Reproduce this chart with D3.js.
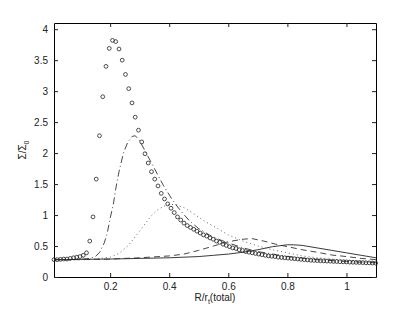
<!DOCTYPE html>
<html>
<head>
<meta charset="utf-8">
<script src="https://cdn.jsdelivr.net/npm/d3@7"></script>
<style>
  body { margin: 0; background: #fff; }
  svg { display: block; }
  svg text { font-family: "Liberation Sans", Arial, sans-serif; }
</style>
</head>
<body>
<div id="chart"></div>
<script>
// circles: sampled surface density
const rCircles = [
  0.010, 0.021, 0.032, 0.043, 0.054, 0.065, 0.076, 0.087, 0.098, 0.109,
  0.120, 0.131, 0.142, 0.153, 0.164, 0.175, 0.186, 0.197, 0.208, 0.219,
  0.230, 0.241, 0.252, 0.263, 0.274, 0.285, 0.296, 0.307, 0.318, 0.329,
  0.340, 0.351, 0.362, 0.373, 0.384, 0.395, 0.406, 0.417, 0.428, 0.439,
  0.450, 0.461, 0.472, 0.483, 0.494, 0.505, 0.516, 0.527, 0.538, 0.549,
  0.560, 0.571, 0.582, 0.593, 0.604, 0.615, 0.626, 0.637, 0.648, 0.659,
  0.670, 0.681, 0.692, 0.703, 0.714, 0.725, 0.736, 0.747, 0.758, 0.769,
  0.780, 0.791, 0.802, 0.813, 0.824, 0.835, 0.846, 0.857, 0.868, 0.879,
  0.890, 0.901, 0.912, 0.923, 0.934, 0.945, 0.956, 0.967, 0.978, 0.989,
  1.000, 1.011, 1.022, 1.033, 1.044, 1.055, 1.066, 1.077, 1.088, 1.099
];
const sigmaCircles = [
  0.28, 0.28, 0.285, 0.29, 0.29, 0.30, 0.31, 0.32, 0.33, 0.35,
  0.39, 0.58, 0.97, 1.58, 2.28, 2.91, 3.40, 3.69, 3.82, 3.80,
  3.68, 3.50, 3.27, 3.04, 2.81, 2.58, 2.37, 2.18, 1.99, 1.84,
  1.70, 1.58, 1.47, 1.35, 1.26, 1.18, 1.11, 1.04, 0.97, 0.92,
  0.87, 0.83, 0.80, 0.77, 0.74, 0.71, 0.68, 0.66, 0.63, 0.61,
  0.58, 0.56, 0.53, 0.51, 0.49, 0.47, 0.46, 0.44, 0.43, 0.41,
  0.40, 0.39, 0.38, 0.37, 0.36, 0.35, 0.34, 0.335, 0.33, 0.32,
  0.315, 0.31, 0.305, 0.30, 0.295, 0.29, 0.285, 0.28, 0.275, 0.27,
  0.268, 0.265, 0.262, 0.26, 0.257, 0.255, 0.252, 0.25, 0.247, 0.245,
  0.243, 0.24, 0.238, 0.236, 0.234, 0.232, 0.23, 0.228, 0.226, 0.224
];

// dash-dot curve
const rDashDot = [0.01, 0.05, 0.10, 0.13, 0.15, 0.165, 0.18, 0.19, 0.20, 0.21, 0.22, 0.23, 0.245, 0.26, 0.275,
  0.285, 0.30, 0.32, 0.35, 0.38, 0.41, 0.44, 0.47, 0.50, 0.55, 0.60, 0.65, 0.70, 0.80, 0.90, 1.00, 1.10];
const sigmaDashDot = [0.28, 0.28, 0.285, 0.30, 0.33, 0.40, 0.55, 0.70, 0.95, 1.15, 1.45, 1.70, 2.00, 2.18, 2.27,
  2.28, 2.20, 2.02, 1.75, 1.48, 1.25, 1.06, 0.90, 0.78, 0.64, 0.55, 0.47, 0.41, 0.33, 0.28, 0.25, 0.23];

// dotted curve
const rDotted = [0.01, 0.10, 0.15, 0.20, 0.23, 0.26, 0.28, 0.30, 0.32, 0.34, 0.36, 0.38, 0.40, 0.42, 0.45,
  0.48, 0.52, 0.55, 0.60, 0.65, 0.70, 0.75, 0.80, 0.85, 0.90, 1.00, 1.10];
const sigmaDotted = [0.28, 0.28, 0.29, 0.32, 0.38, 0.50, 0.62, 0.74, 0.87, 0.99, 1.08, 1.14, 1.17, 1.17, 1.12,
  1.03, 0.90, 0.82, 0.68, 0.58, 0.50, 0.44, 0.39, 0.34, 0.31, 0.27, 0.24];

// dashed curve
const rDashed = [0.01, 0.10, 0.20, 0.30, 0.40, 0.45, 0.50, 0.55, 0.60, 0.65, 0.68, 0.72, 0.76, 0.80, 0.85,
  0.90, 0.95, 1.00, 1.05, 1.10];
const sigmaDashed = [0.28, 0.28, 0.29, 0.31, 0.34, 0.37, 0.43, 0.50, 0.57, 0.61, 0.62, 0.58, 0.53, 0.49, 0.44,
  0.40, 0.355, 0.33, 0.30, 0.28];

// solid curve
const rSolid = [0.01, 0.20, 0.30, 0.40, 0.50, 0.55, 0.60, 0.65, 0.70, 0.75, 0.80, 0.82, 0.85, 0.90, 0.95,
  1.00, 1.05, 1.10];
const sigmaSolid = [0.28, 0.29, 0.30, 0.31, 0.33, 0.35, 0.37, 0.40, 0.44, 0.49, 0.52, 0.52, 0.51, 0.47, 0.43,
  0.39, 0.35, 0.31];

const xTicks = [0.2, 0.4, 0.6, 0.8, 1];
const yTicks = [0, 0.5, 1, 1.5, 2, 2.5, 3, 3.5, 4];

const width = 415;
const height = 312;
const margin = { top: 23, right: 39, bottom: 35, left: 54 };
const innerW = width - margin.left - margin.right;
const innerH = height - margin.top - margin.bottom;

const svg = d3.select('#chart')
  .append('svg')
  .attr('width', width)
  .attr('height', height);

const g = svg.append('g')
  .attr('transform', `translate(${margin.left},${margin.top})`);

const x = d3.scaleLinear().domain([0.01, 1.1]).range([0, innerW]);
const y = d3.scaleLinear().domain([0, 4.1]).range([innerH, 0]);

// plot box
g.append('path')
  .attr('d', `M0.5,0.5H${innerW + 0.5}V${innerH + 0.5}H0.5Z`)
  .attr('fill', 'none')
  .attr('stroke', '#000')
  .attr('stroke-width', 1);

// axes, MATLAB style: ticks pointing in, on all four sides
const tickLen = 4;
const styleAxis = sel => {
  sel.select('.domain').remove();
  sel.selectAll('.tick line').attr('stroke', '#222');
  sel.selectAll('text').attr('font-size', 10).attr('fill', '#222');
};

g.append('g')
  .attr('transform', `translate(0,${innerH})`)
  .call(d3.axisBottom(x).tickValues(xTicks).tickSize(-tickLen).tickSizeOuter(0).tickPadding(6).tickFormat(d3.format('')))
  .call(styleAxis);

g.append('g')
  .call(d3.axisTop(x).tickValues(xTicks).tickSize(-tickLen).tickSizeOuter(0).tickFormat(''))
  .call(styleAxis);

g.append('g')
  .call(d3.axisLeft(y).tickValues(yTicks).tickSize(-tickLen).tickSizeOuter(0).tickPadding(6).tickFormat(d3.format('')))
  .call(styleAxis);

g.append('g')
  .attr('transform', `translate(${innerW},0)`)
  .call(d3.axisRight(y).tickValues(yTicks).tickSize(-tickLen).tickSizeOuter(0).tickFormat(''))
  .call(styleAxis);

// curves
const line = d3.line()
  .x(d => x(d[0]))
  .y(d => y(d[1]));

const curves = [
  { r: rSolid, s: sigmaSolid, dash: null, color: '#222' },
  { r: rDashed, s: sigmaDashed, dash: '6,4', color: '#333' },
  { r: rDotted, s: sigmaDotted, dash: '1,3', color: '#555' },
  { r: rDashDot, s: sigmaDashDot, dash: '7,3,1,3', color: '#333' }
];

curves.forEach(c => {
  g.append('path')
    .datum(d3.zip(c.r, c.s))
    .attr('fill', 'none')
    .attr('stroke', c.color)
    .attr('stroke-width', 0.9)
    .attr('stroke-dasharray', c.dash)
    .attr('d', line);
});

g.selectAll('circle.pt')
  .data(d3.zip(rCircles, sigmaCircles))
  .enter()
  .append('circle')
  .attr('class', 'pt')
  .attr('cx', d => x(d[0]))
  .attr('cy', d => y(d[1]))
  .attr('r', 1.9)
  .attr('fill', 'none')
  .attr('stroke', '#222')
  .attr('stroke-width', 0.8);

// axis labels
const xLabel = svg.append('text')
  .attr('x', margin.left + innerW / 2)
  .attr('y', 301)
  .attr('text-anchor', 'middle')
  .attr('font-size', 10)
  .attr('fill', '#222');
xLabel.append('tspan').text('R/r');
xLabel.append('tspan').attr('dy', 3).attr('font-size', 7).text('t');
xLabel.append('tspan').attr('dy', -3).text('(total)');

const yLabel = svg.append('text')
  .attr('transform', `translate(26,${margin.top + innerH / 2}) rotate(-90)`)
  .attr('text-anchor', 'middle')
  .attr('font-size', 10)
  .attr('fill', '#222');
yLabel.append('tspan').text('Σ/Σ');
yLabel.append('tspan').attr('dy', 3).attr('font-size', 7).text('0');
</script>
</body>
</html>
